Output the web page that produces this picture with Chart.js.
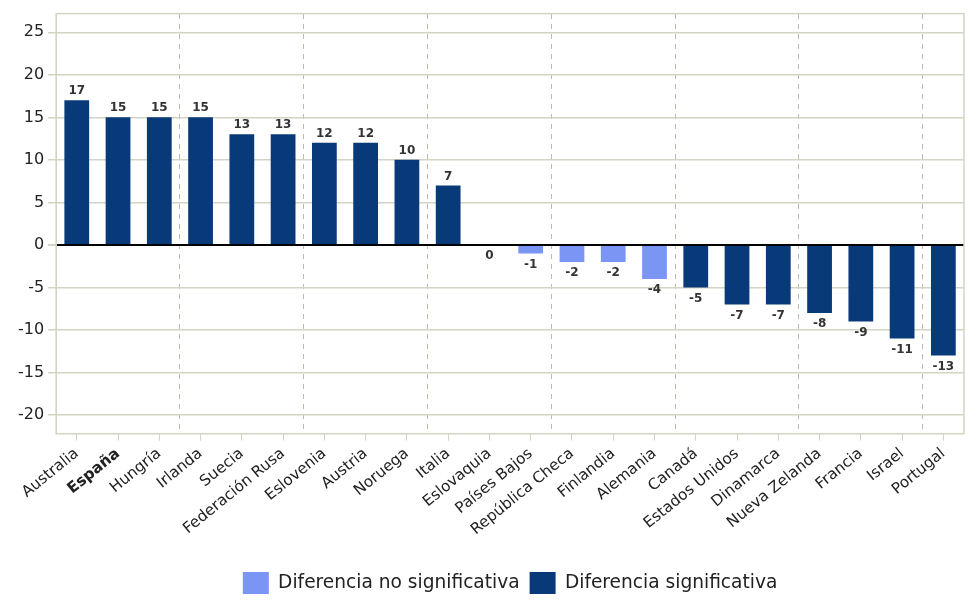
<!DOCTYPE html>
<html>
<head>
<meta charset="utf-8">
<script src="https://cdn.jsdelivr.net/npm/chart.js@4.4.1/dist/chart.umd.min.js"></script>
<style>
html, body { margin: 0; padding: 0; background: #fff; }
#wrap { width: 980px; height: 604px; }
</style>
</head>
<body>
<div id="wrap"><canvas id="chart" width="980" height="604"></canvas></div>
<script>
// Countries in display order
const countries = ['Australia', 'España', 'Hungría', 'Irlanda', 'Suecia', 'Federación Rusa',
    'Eslovenia', 'Austria', 'Noruega', 'Italia', 'Eslovaquia', 'Países Bajos',
    'República Checa', 'Finlandia', 'Alemania', 'Canadá', 'Estados Unidos',
    'Dinamarca', 'Nueva Zelanda', 'Francia', 'Israel', 'Portugal'];

// Differences that are not significant
const nonSigValues = [null, null, null, null, null, null, null, null, null, null,
    0, -1, -2, -2, -4, null, null, null, null, null, null, null];

// Differences that are significant
const sigValues = [17, 15, 15, 15, 13, 13, 12, 12, 10, 7,
    null, null, null, null, null, -5, -7, -7, -8, -9, -11, -13];

const frameColor = '#d4d4c4';
const textColor = '#222';
const fontFamily = '"DejaVu Sans", Verdana, sans-serif';

// Draw the frame round the plot area
const frameBox = {
    id: 'frameBox',
    beforeDatasetsDraw(chart) {
        const { ctx, chartArea } = chart;
        ctx.save();
        ctx.strokeStyle = frameColor;
        ctx.lineWidth = 1.5;
        ctx.strokeRect(chartArea.left, chartArea.top, chartArea.right - chartArea.left, chartArea.bottom - chartArea.top);
        ctx.restore();
    }
};

// Value labels above / below the bars
const valueLabels = {
    id: 'valueLabels',
    afterDatasetsDraw(chart) {
        const ctx = chart.ctx;
        ctx.save();
        ctx.font = 'bold 12px ' + fontFamily;
        ctx.fillStyle = '#333';
        ctx.textAlign = 'center';
        chart.data.datasets.forEach((ds, di) => {
            const meta = chart.getDatasetMeta(di);
            meta.data.forEach((bar, i) => {
                const v = ds.data[i];
                if (v === null) return;
                if (v > 0) {
                    ctx.textBaseline = 'bottom';
                    ctx.fillText(v, bar.x, bar.y - 3);
                } else {
                    ctx.textBaseline = 'top';
                    ctx.fillText(v, bar.x, bar.y + 5);
                }
            });
        });
        ctx.restore();
    }
};

const ctx = document.getElementById('chart').getContext('2d');
const chart = new Chart(ctx, {
    type: 'bar',
    data: {
        labels: countries,
        datasets: [
            {
                label: 'Diferencia no significativa',
                data: nonSigValues,
                backgroundColor: '#7b95f5',
                barPercentage: 0.6,
                categoryPercentage: 1
            },
            {
                label: 'Diferencia significativa',
                data: sigValues,
                backgroundColor: '#083a7a',
                barPercentage: 0.6,
                categoryPercentage: 1
            }
        ]
    },
    options: {
        responsive: false,
        animation: false,
        layout: {
            padding: { left: 14, right: 16, top: 12, bottom: 0 }
        },
        plugins: {
            tooltip: { enabled: false },
            legend: {
                position: 'bottom',
                fullSize: false,
                labels: {
                    boxWidth: 26,
                    boxHeight: 22,
                    padding: 10,
                    color: textColor,
                    font: { size: 18.6, family: fontFamily }
                }
            }
        },
        scales: {
            x: {
                stacked: true,
                grid: {
                    offset: false,
                    drawOnChartArea: false,
                    tickLength: 7,
                    tickColor: frameColor
                },
                border: { color: frameColor },
                ticks: {
                    autoSkip: false,
                    minRotation: 39,
                    maxRotation: 39,
                    padding: 4,
                    color: textColor,
                    font: (c) => ({
                        size: 15.3,
                        family: fontFamily,
                        weight: c.index === 1 ? 'bold' : 'normal'
                    })
                },
                afterFit(scale) {
                    scale.height += 19;
                }
            },
            x2: {
                type: 'category',
                labels: countries,
                position: 'top',
                grid: {
                    offset: true,
                    drawTicks: false,
                    color: (c) => (c.index % 3 === 0 && c.index > 0 && c.index < countries.length) ? '#bcbcac' : 'rgba(0,0,0,0)'
                },
                border: { display: false, dash: [5, 5] },
                ticks: { display: false }
            },
            y: {
                stacked: true,
                min: -22.2,
                max: 27.2,
                afterBuildTicks(scale) {
                    scale.ticks = scale.ticks.filter(t => t.value % 5 === 0);
                },
                grid: {
                    color: (c) => c.tick && c.tick.value === 0 ? '#000' : frameColor,
                    lineWidth: (c) => c.tick && c.tick.value === 0 ? 2 : 1.5,
                    tickColor: frameColor,
                    tickLength: 8
                },
                border: { color: frameColor },
                ticks: {
                    stepSize: 5,
                    padding: 4,
                    color: textColor,
                    font: { size: 16, family: fontFamily }
                }
            }
        }
    },
    plugins: [frameBox, valueLabels]
});
</script>
</body>
</html>
